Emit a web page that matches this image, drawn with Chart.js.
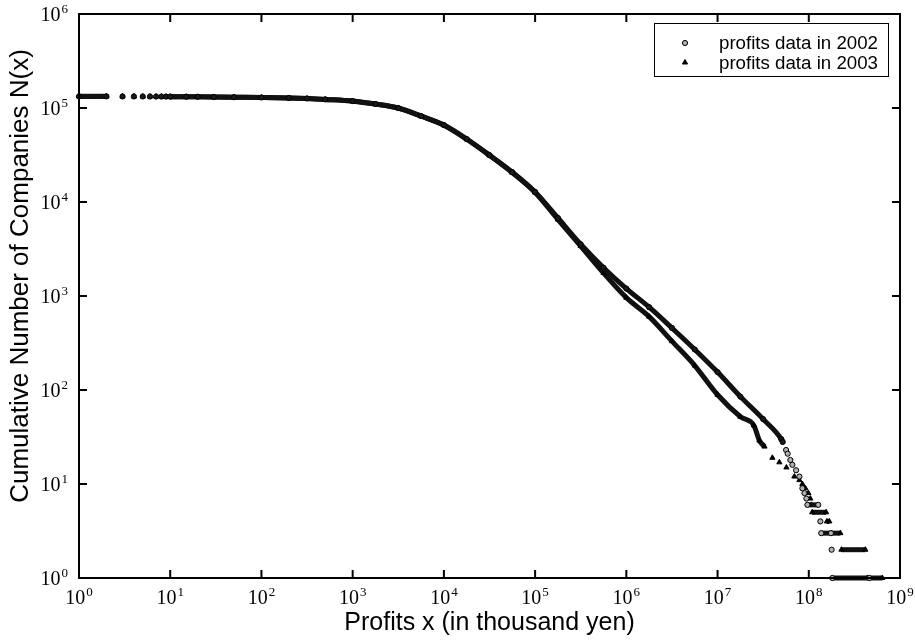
<!DOCTYPE html>
<html>
<head>
<meta charset="utf-8">
<script src="https://cdn.jsdelivr.net/npm/chart.js@4.4.0/dist/chart.umd.min.js"></script>
<style>
  html, body { margin: 0; padding: 0; background: #fff; }
  #wrap { width: 915px; height: 641px; }
</style>
</head>
<body>
<div id="wrap"><canvas id="chart"></canvas></div>
<script>
"use strict";

// profits x in thousand yen, and cumulative number of companies N(x)
const profits2002 = [1, 2, 3, 4, 5, 6, 7, 8, 9, 10,
	15, 20, 30, 50, 100, 200, 316, 500, 1000, 1780,
	3160, 5620, 1e4, 1.78e4, 3.16e4, 5.62e4, 1e5, 1.78e5, 3.16e5, 5.62e5,
	1e6, 1.78e6, 3.16e6, 5.62e6, 1e7, 1.78e7, 3.16e7, 5.0e7,
	5.18e7, 5.64e7, 5.87e7, 6.28e7, 6.61e7, 7.26e7, 7.89e7, 8.51e7, 8.96e7, 9.42e7,
	9.66e7, 1.27e8, 1.34e8, 1.37e8, 1.75e8, 1.78e8, 1.81e8, 4.61e8];
const companies2002 = [133000, 133000, 132800, 132700, 132600, 132500, 132400, 132300, 132200, 132100,
	131800, 131500, 131000, 130300, 129400, 128000, 126200, 123500, 118600, 110300,
	100000, 82200, 65900, 46800, 31600, 20800, 12800, 6760, 3550, 2000,
	1200, 760, 457, 270, 155, 85, 49, 30,
	28, 23, 21, 18, 16, 14, 12, 9, 8, 7,
	6, 6, 4, 3, 3, 2, 1, 1];

const profits2003 = [1, 2, 3, 4, 5, 6, 7, 8, 9, 10,
	15, 20, 30, 50, 100, 200, 316, 500, 1000, 1780,
	3160, 5620, 1e4, 1.78e4, 3.16e4, 5.62e4, 1e5, 1.78e5,
	3.16e5, 5.62e5, 1e6, 1.78e6, 3.16e6, 5.62e6, 1e7, 1.78e7, 2.5e7,
	2.88e7, 3.27e7, 3.99e7, 4.76e7, 5.69e7, 6.95e7, 7.89e7, 8.51e7, 9.18e7, 9.9e7, 1.04e8, 1.07e8,
	1.09e8, 1.55e8, 1.58e8, 1.68e8, 1.77e8, 2.22e8, 2.28e8, 4.17e8, 4.39e8, 6.4e8];
const companies2003 = [132900, 132900, 132700, 132600, 132500, 132400, 132300, 132200, 132100, 132000,
	131700, 131400, 130900, 130200, 129300, 127800, 126000, 123200, 118300, 110000,
	99700, 81900, 65500, 46500, 31300, 20500, 12600, 6500,
	3400, 1760, 960, 603, 331, 182, 89, 52, 42,
	29, 25, 19, 17, 15, 12, 11, 10, 9, 8, 7, 6,
	5, 5, 4, 4, 3, 3, 2, 2, 1, 1];

const seriesLabels = ['profits data in 2002', 'profits data in 2003'];
const xDecades = [0, 1, 2, 3, 4, 5, 6, 7, 8, 9];
const yDecades = [0, 1, 2, 3, 4, 5, 6];
const xTitle = 'Profits x (in thousand yen)';
const yTitle = 'Cumulative Number of Companies N(x)';

// where the markers are so close they read as one thick band
const BAND_FROM_X = 10;
const BAND_MIN_N = 25;

const toPoints = (xs, ys) => xs.map((x, i) => ({x: x, y: ys[i]}));

const bandColor = (ctx) => {
	const a = ctx.p0.parsed, b = ctx.p1.parsed;
	if (a.y === b.y) return '#111';
	if (a.x >= BAND_FROM_X && b.y >= BAND_MIN_N) return '#111';
	return 'rgba(0,0,0,0)';
};
const circleFill = (ctx) => (ctx.raw && ctx.raw.y >= BAND_MIN_N) ? '#1a1a1a' : '#b0b0b0';

const serif = '"Liberation Serif", "Times New Roman", serif';
const sans = '"Liberation Sans", Arial, Helvetica, sans-serif';

function drawPower(ctx, k, x, baseline, align) {
	ctx.font = '20px ' + serif;
	const wBase = ctx.measureText('10').width;
	ctx.font = '13px ' + serif;
	const wExp = ctx.measureText(String(k)).width;
	const total = wBase + 1 + wExp;
	const left = align === 'right' ? x - total : x - total / 2;
	ctx.textAlign = 'left';
	ctx.textBaseline = 'alphabetic';
	ctx.font = '20px ' + serif;
	ctx.fillText('10', left, baseline);
	ctx.font = '13px ' + serif;
	ctx.fillText(String(k), left + wBase + 1, baseline - 8);
}

const frameAndTicks = {
	id: 'frameAndTicks',
	afterDraw(chart) {
		const {ctx, chartArea: a, scales: {x, y}} = chart;
		const len = 8;
		ctx.save();
		ctx.strokeStyle = '#000';
		ctx.lineWidth = 2;
		ctx.strokeRect(a.left, a.top, a.right - a.left, a.bottom - a.top);
		ctx.beginPath();
		xDecades.forEach(k => {
			const px = x.getPixelForValue(Math.pow(10, k));
			ctx.moveTo(px, a.bottom); ctx.lineTo(px, a.bottom - len);
			ctx.moveTo(px, a.top); ctx.lineTo(px, a.top + len);
		});
		yDecades.forEach(k => {
			const py = y.getPixelForValue(Math.pow(10, k));
			ctx.moveTo(a.left, py); ctx.lineTo(a.left + len, py);
			ctx.moveTo(a.right, py); ctx.lineTo(a.right - len, py);
		});
		ctx.stroke();
		ctx.fillStyle = '#000';
		xDecades.forEach(k => {
			drawPower(ctx, k, x.getPixelForValue(Math.pow(10, k)), a.bottom + 26, 'center');
		});
		yDecades.forEach(k => {
			drawPower(ctx, k, a.left - 11, y.getPixelForValue(Math.pow(10, k)) + 7, 'right');
		});
		// y axis title, sitting a little above the middle as in the original
		ctx.save();
		ctx.translate(21, (a.top + a.bottom) / 2 - 20);
		ctx.rotate(-Math.PI / 2);
		ctx.font = '26px ' + sans;
		ctx.textAlign = 'center';
		ctx.textBaseline = 'middle';
		ctx.fillText(yTitle, 0, 0);
		ctx.restore();
		ctx.restore();
	}
};

function marker(ctx, style, cx, cy, r) {
	ctx.beginPath();
	if (style === 'triangle') {
		ctx.moveTo(cx, cy - r);
		ctx.lineTo(cx + r * 0.87, cy + r * 0.5);
		ctx.lineTo(cx - r * 0.87, cy + r * 0.5);
		ctx.closePath();
	} else {
		ctx.arc(cx, cy, r, 0, Math.PI * 2);
	}
	ctx.fill();
	ctx.stroke();
}

const legendFills = ['#b0b0b0', '#000'];

const boxedLegend = {
	id: 'boxedLegend',
	afterDraw(chart) {
		const {ctx, chartArea: a} = chart;
		const w = 234, h = 53;
		const left = Math.round(a.right - 12 - w), top = Math.round(a.top + 9);
		ctx.save();
		ctx.fillStyle = '#fff';
		ctx.fillRect(left, top, w, h);
		ctx.strokeStyle = '#000';
		ctx.lineWidth = 1;
		ctx.strokeRect(left + 0.5, top + 0.5, w, h);
		chart.data.datasets.forEach((ds, i) => {
			const cy = top + 20 + i * 19.5;
			ctx.fillStyle = legendFills[i];
			ctx.strokeStyle = '#000';
			ctx.lineWidth = 1;
			marker(ctx, ds.pointStyle, left + 31, cy, ds.pointRadius);
			ctx.fillStyle = '#000';
			ctx.font = '18.7px ' + sans;
			ctx.textAlign = 'left';
			ctx.textBaseline = 'middle';
			ctx.fillText(ds.label, left + 65, cy + 1);
		});
		ctx.restore();
	}
};

const data = {
	datasets: [
		{
			label: seriesLabels[0],
			data: toPoints(profits2002, companies2002),
			showLine: true,
			borderWidth: 5,
			borderColor: '#111',
			cubicInterpolationMode: 'monotone',
			segment: {borderColor: bandColor},
			pointStyle: 'circle',
			pointRadius: 2.6,
			pointBorderWidth: 1,
			pointBorderColor: '#000',
			pointBackgroundColor: circleFill,
			clip: false
		},
		{
			label: seriesLabels[1],
			data: toPoints(profits2003, companies2003),
			showLine: true,
			borderWidth: 5,
			borderColor: '#111',
			cubicInterpolationMode: 'monotone',
			segment: {borderColor: bandColor},
			pointStyle: 'triangle',
			pointRadius: 3,
			pointBorderWidth: 1,
			pointBorderColor: '#000',
			pointBackgroundColor: '#000',
			clip: false
		}
	]
};

const config = {
	type: 'scatter',
	data: data,
	options: {
		responsive: true,
		maintainAspectRatio: false,
		animation: false,
		layout: {padding: {left: 0, right: 15, top: 14, bottom: 0}},
		plugins: {
			legend: {display: false},
			tooltip: {enabled: false}
		},
		scales: {
			x: {
				type: 'logarithmic',
				min: 1,
				max: 1e9,
				grid: {display: false},
				border: {display: false},
				ticks: {display: false},
				title: {
					display: true,
					text: xTitle,
					color: '#000',
					font: {family: sans, size: 25},
					padding: {top: 0, bottom: 3}
				},
				afterFit: (scale) => { scale.height = 63; }
			},
			y: {
				type: 'logarithmic',
				min: 1,
				max: 1e6,
				grid: {display: false},
				border: {display: false},
				ticks: {display: false},
				afterFit: (scale) => { scale.width = 79; }
			}
		}
	},
	plugins: [frameAndTicks, boxedLegend]
};

const myChart = new Chart(document.getElementById('chart'), config);
</script>
</body>
</html>
